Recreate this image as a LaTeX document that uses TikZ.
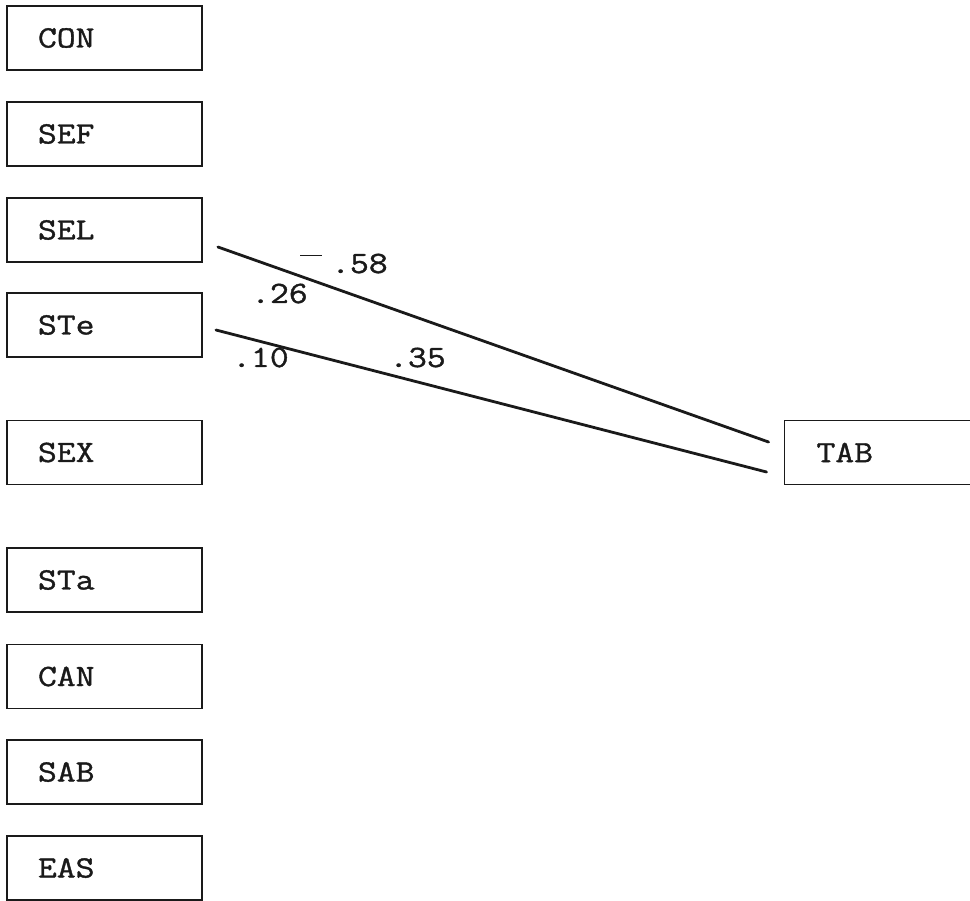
\documentclass[tikz,border=0pt]{standalone}
\usepackage{fontspec}
\setmonofont{Latin Modern Mono}[FakeStretch=1.18,FakeBold=1.2]
\usepackage{tikz}
\usetikzlibrary{arrows.meta,positioning}
\definecolor{ink}{HTML}{1A1A1A}

\begin{document}
\begin{tikzpicture}[x=1pt,y=-1pt,
  varbox/.style={rectangle,draw=ink,line width=1.9pt,minimum height=64pt,text width=133pt,inner xsep=31pt,inner ysep=0pt,align=left,font=\fontsize{31}{33}\ttfamily,text=ink},
  path/.style={ink,line width=2.8pt,line cap=round},
  coef/.style={anchor=base west,inner sep=0pt,font=\fontsize{31}{33}\ttfamily,text=ink}]
\useasboundingbox (0,0) rectangle (970,901);
\node[varbox] (con) at (104.5,38) {CON};
\node[varbox] (sef) at (104.5,134) {SEF};
\node[varbox] (sel) at (104.5,230) {SEL};
\node[varbox] (ste) at (104.5,325) {STe};
\node[varbox] (sex) at (104.5,452.5) {SEX};
\node[varbox] (sta) at (104.5,580) {STa};
\node[varbox] (can) at (104.5,676.5) {CAN};
\node[varbox] (sab) at (104.5,772) {SAB};
\node[varbox] (eas) at (104.5,868) {EAS};
\node[varbox,text width=127pt,inner xsep=32pt] (tab) at (880,452.5) {TAB};
\draw[path] ([shift={(15,17)}]sel.east) -- ([shift={(-15,-10.5)}]tab.west);
\draw[path] ([shift={(13,5)}]ste.east) -- ([shift={(-17,19.5)}]tab.west);
\node[coef] (c58) at (300,273) {\raisebox{17pt}{\rule{22pt}{1.3pt}}\hspace{9pt}.58};
\node[coef] (c26) at (251,303) {.26};
\node[coef] (c10) at (232,367) {.10};
\node[coef] (c35) at (389,367) {.35};
\end{tikzpicture}
\end{document}
